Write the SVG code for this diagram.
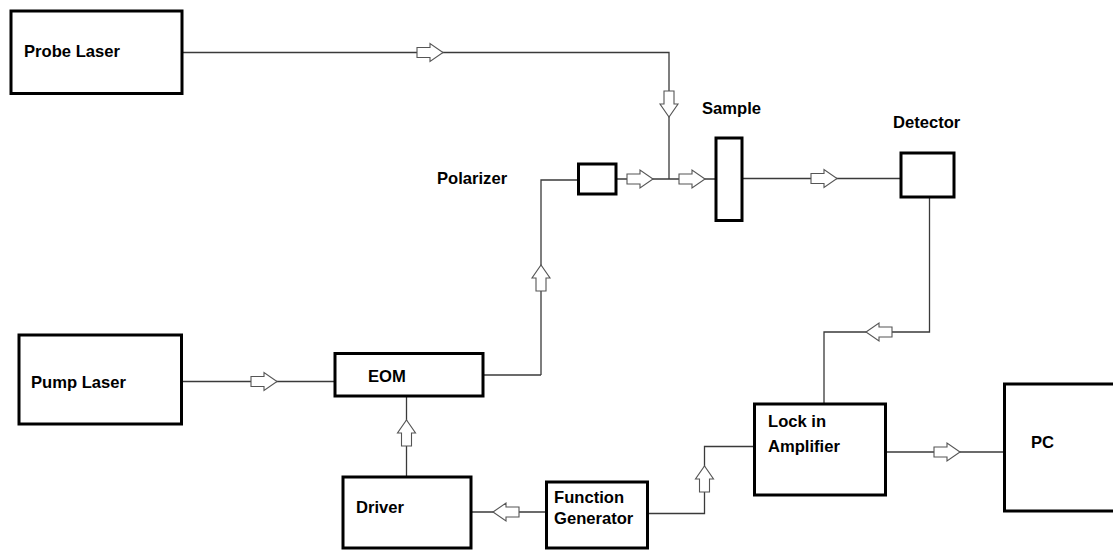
<svg xmlns="http://www.w3.org/2000/svg" width="1113" height="550" viewBox="0 0 1113 550">
<style>
.box{fill:#fff;stroke:#000;stroke-width:3}
.ln{fill:none;stroke:#3a3a3a;stroke-width:1.3}
.lbl{font-family:"Liberation Sans",Arial,sans-serif;font-weight:bold;font-size:16.6px;fill:#000}
.arr{fill:#fff;stroke:#555;stroke-width:1.1}
</style>
<defs>
<path id="ar" d="M-26,-5 L-13,-5 L-13,-9 L0,0 L-13,9 L-13,5 L-26,5 Z"/>
</defs>
<rect width="1113" height="550" fill="#fff"/>
<g id="connectors">
<polyline class="ln" points="182,52.5 669,52.5 669,179"/>
<polyline class="ln" points="541,375 541,180 578,180"/>
<line class="ln" x1="616" y1="179" x2="716" y2="179"/>
<line class="ln" x1="742" y1="178.5" x2="901" y2="178.5"/>
<polyline class="ln" points="929.5,197 929.5,332 824,332 824,404"/>
<line class="ln" x1="182" y1="381.5" x2="335" y2="381.5"/>
<line class="ln" x1="483" y1="375" x2="541" y2="375"/>
<line class="ln" x1="406.5" y1="396" x2="406.5" y2="477"/>
<line class="ln" x1="471" y1="512" x2="546" y2="512"/>
<polyline class="ln" points="647,513.5 704.5,513.5 704.5,446.5 754,446.5"/>
<line class="ln" x1="886" y1="452" x2="1005" y2="452"/>
<use href="#ar" class="arr" transform="translate(443,52.5)"/>
<use href="#ar" class="arr" transform="translate(669,117) rotate(90)"/>
<use href="#ar" class="arr" transform="translate(653,179)"/>
<use href="#ar" class="arr" transform="translate(705,179)"/>
<use href="#ar" class="arr" transform="translate(837,178.5)"/>
<use href="#ar" class="arr" transform="translate(866,332) rotate(180)"/>
<use href="#ar" class="arr" transform="translate(277,381.5)"/>
<use href="#ar" class="arr" transform="translate(541,265) rotate(-90)"/>
<use href="#ar" class="arr" transform="translate(406.5,420) rotate(-90)"/>
<use href="#ar" class="arr" transform="translate(493,512) rotate(180)"/>
<use href="#ar" class="arr" transform="translate(704.5,466) rotate(-90)"/>
<use href="#ar" class="arr" transform="translate(960,452)"/>
</g>
<g id="probe-laser">
<rect class="box" x="11" y="11" width="171" height="82.5"/>
<text class="lbl" x="24" y="57">Probe Laser</text>
</g>
<g id="polarizer">
<rect class="box" x="578.5" y="164" width="37.5" height="30"/>
<text class="lbl" x="437" y="184">Polarizer</text>
</g>
<g id="sample">
<rect class="box" x="716" y="138" width="26" height="82.5"/>
<text class="lbl" x="702" y="114">Sample</text>
</g>
<g id="detector">
<rect class="box" x="901" y="153" width="53" height="44"/>
<text class="lbl" x="893" y="128">Detector</text>
</g>
<g id="pump-laser">
<rect class="box" x="19" y="335" width="162.5" height="89"/>
<text class="lbl" x="31" y="387.5">Pump Laser</text>
</g>
<g id="eom">
<rect class="box" x="335" y="353.5" width="148" height="42.5"/>
<text class="lbl" x="368" y="382">EOM</text>
</g>
<g id="driver">
<rect class="box" x="343" y="477" width="128" height="71"/>
<text class="lbl" x="356" y="513">Driver</text>
</g>
<g id="function-generator">
<rect class="box" x="546.5" y="482" width="101" height="66"/>
<text class="lbl" x="554" y="503">Function</text>
<text class="lbl" x="554" y="524">Generator</text>
</g>
<g id="lock-in-amplifier">
<rect class="box" x="754.5" y="404" width="131" height="91"/>
<text class="lbl" x="768" y="427">Lock in</text>
<text class="lbl" x="768" y="452">Amplifier</text>
</g>
<g id="pc">
<rect class="box" x="1004.5" y="384" width="120" height="127"/>
<text class="lbl" x="1031" y="448">PC</text>
</g>
</svg>
